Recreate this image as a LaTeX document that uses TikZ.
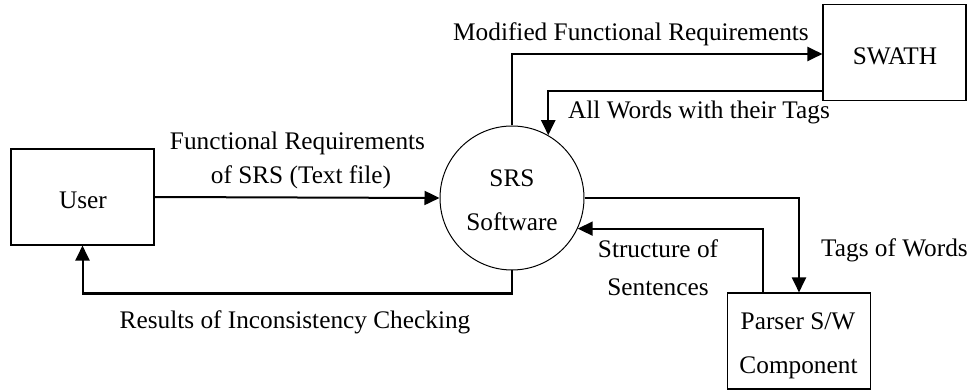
\documentclass[tikz,border=0pt]{standalone}
\usepackage{fontspec}
\setmainfont{Liberation Serif}
\usetikzlibrary{arrows.meta}

\tikzset{
  lbl/.style={anchor=base, inner sep=0pt, font=\fontsize{25.3pt}{30pt}\selectfont},
  entity/.style={draw, line width=1.1pt, minimum width=143pt, minimum height=96pt, inner sep=0pt},
  process/.style={draw, circle, line width=1pt, minimum size=144pt, inner sep=0pt},
  flow/.style={line width=2pt, -{Triangle[length=15pt,width=14pt]}},
}

\begin{document}
\begin{tikzpicture}[x=1pt, y=-1pt]
  \useasboundingbox (0,0) rectangle (975,390);
  \fill[white] (0,0) rectangle (975,390);

  % external entities and the central process
  \node[entity]  (user)   at (82.5,197)  {};
  \node[process] (srs)    at (512,198)   {};
  \node[entity]  (swath)  at (894.5,52.5) {};
  \node[entity]  (parser) at (799,341)   {};

  % texts inside the shapes
  \node[lbl] (tuser)  at (83,209)   {User};
  \node[lbl] (tsrs1)  at (512,187)  {SRS};
  \node[lbl] (tsrs2)  at (512,231)  {Software};
  \node[lbl] (tswath) at (895,65)   {SWATH};
  \node[lbl] (tpar1)  at (798,329)  {Parser S/W};
  \node[lbl] (tpar2)  at (798.5,373) {Component};

  % data flows
  \draw[flow] (user.east) -- (srs.west);
  \draw[flow] (srs.north) |- ([yshift=-1.5pt]swath.west);
  \draw[flow] ([yshift=10pt]swath.south west) -| (srs.60);
  \draw[flow] (srs.east) -| (parser.north);
  \draw[flow] ([xshift=-36pt]parser.north) |- (srs.-25);
  \draw[flow] (srs.south) -- ++(0,23) -| (user.south);

  % flow labels
  \node[lbl] (lfr1)  at (297.5,150) {Functional Requirements};
  \node[lbl] (lfr2)  at (301,184)   {of SRS (Text file)};
  \node[lbl] (lmod)  at (631,41)    {Modified Functional Requirements};
  \node[lbl] (lall)  at (699,119)   {All Words with their Tags};
  \node[lbl] (ltags) at (894.5,257) {Tags of Words};
  \node[lbl] (lst1)  at (658,258)   {Structure of};
  \node[lbl] (lst2)  at (658,295)   {Sentences};
  \node[lbl] (lres)  at (295,328)   {Results of Inconsistency Checking};
\end{tikzpicture}
\end{document}
